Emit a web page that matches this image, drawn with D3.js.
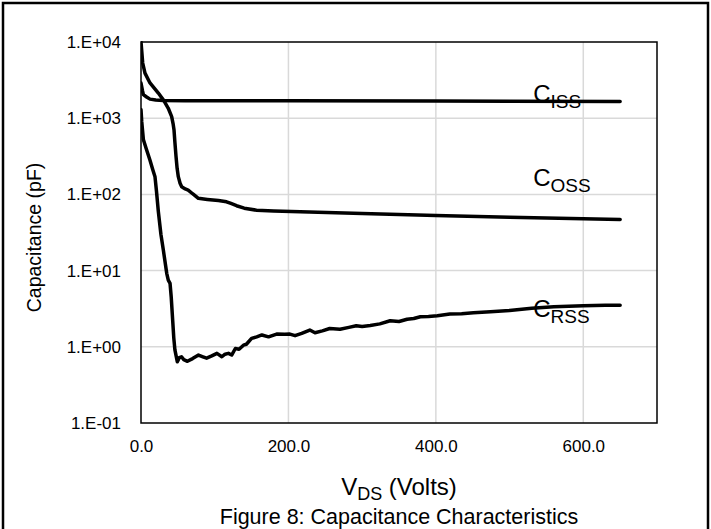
<!DOCTYPE html>
<html>
<head>
<meta charset="utf-8">
<script src="https://cdn.jsdelivr.net/npm/d3@7"></script>
<style>
  html, body { margin: 0; padding: 0; background: #fff; }
  text { font-family: "Liberation Sans", Arial, sans-serif; fill: #000; }
</style>
</head>
<body>
<svg id="chart" width="711" height="529"></svg>
<script>
// ---- Data (V_DS in volts, capacitance in pF) ----
const cissV = [0, 2, 3.2, 7.6, 12.2, 20, 30, 60, 200, 400, 650];
const cissC = [2900, 2300, 2040, 1900, 1780, 1730, 1710, 1700, 1690, 1680, 1660];

const cossV = [0, 2.3, 5.4, 12.2, 23.5, 31, 37, 41.6, 43.5, 44.8, 46, 47.5, 49, 50.6, 53, 55.2, 60, 64, 70, 77.8, 90, 105, 116, 122, 129.6, 140, 156.7, 180, 216, 300, 400, 500, 600, 650];
const cossC = [10000, 5300, 3900, 2900, 2140, 1700, 1350, 1050, 850, 700, 480, 316, 220, 171, 140, 126, 118, 114, 102, 89, 86, 83, 80, 76, 71, 66, 62, 60.5, 59, 56, 53, 50, 48, 47];

const crssV = [0, 1, 3.2, 7, 12.2, 16, 19, 21, 23.5, 27, 30.3, 34.9, 37, 39.4, 41, 43, 44.5, 46, 49.3, 52, 55, 58, 63, 70, 78, 84, 89, 96, 103, 109.7, 114, 118.6, 123, 128, 133, 139, 143, 150, 157, 164, 173, 184, 195, 202, 209, 218, 229, 236, 246, 256, 270, 282, 292, 300, 311, 324, 338, 350, 361, 370, 379, 390, 402, 419, 435, 451, 474, 500, 530, 560, 600, 630, 650];
const crssC = [1300, 900, 525, 400, 280, 210, 170, 110, 60, 30, 18.6, 9.2, 7.5, 6.8, 4.5, 2.2, 1.3, 0.91, 0.635, 0.72, 0.74, 0.68, 0.645, 0.7, 0.78, 0.74, 0.71, 0.76, 0.82, 0.74, 0.8, 0.82, 0.78, 0.95, 0.93, 1.05, 1.08, 1.29, 1.35, 1.43, 1.35, 1.47, 1.46, 1.47, 1.4, 1.5, 1.66, 1.53, 1.62, 1.74, 1.7, 1.8, 1.89, 1.85, 1.9, 2.0, 2.2, 2.15, 2.3, 2.35, 2.48, 2.5, 2.56, 2.69, 2.72, 2.8, 2.88, 3.0, 3.2, 3.35, 3.45, 3.5, 3.5];

const xTicks = [0, 200, 400, 600];
const xTickLabels = ["0.0", "200.0", "400.0", "600.0"];
const yTicks = [1e-1, 1e0, 1e1, 1e2, 1e3, 1e4];
const yTickLabels = ["1.E-01", "1.E+00", "1.E+01", "1.E+02", "1.E+03", "1.E+04"];

// label anchors: baseline of the "C" sits at (v, c)
const seriesLabels = [
  { main: "C", sub: "ISS", v: 532, c: 1620 },
  { main: "C", sub: "OSS", v: 532, c: 129 },
  { main: "C", sub: "RSS", v: 532, c: 2.46 }
];

// ---- Layout ----
const svg = d3.select("#chart");
const L = 141, R = 657, T = 42, B = 423;
const x = d3.scaleLinear().domain([0, 700]).range([L, R]);
const y = d3.scaleLog().domain([0.1, 10000]).range([B, T]);
const FONT = '"Liberation Sans", Arial, sans-serif';

svg.append("rect").attr("width", 711).attr("height", 529).attr("fill", "#fff");

// outer frame
svg.append("rect").attr("x", 3).attr("y", 3).attr("width", 705).attr("height", 560)
  .attr("fill", "none").attr("stroke", "#000").attr("stroke-width", 2.5);

// gridlines
const grid = svg.append("g");
grid.selectAll(".hg").data(yTicks.slice(1, -1)).join("line")
  .attr("x1", L).attr("x2", R).attr("y1", d => y(d)).attr("y2", d => y(d))
  .attr("stroke", "#d9d9d9").attr("stroke-width", 1.5);
grid.selectAll(".vg").data(xTicks.slice(1)).join("line")
  .attr("y1", T).attr("y2", B).attr("x1", d => x(d)).attr("x2", d => x(d))
  .attr("stroke", "#d9d9d9").attr("stroke-width", 1.5);

// plot border
svg.append("rect").attr("x", L).attr("y", T).attr("width", R - L).attr("height", B - T)
  .attr("fill", "none").attr("stroke", "#000").attr("stroke-width", 1.5);

// axes
const xAxis = d3.axisBottom(x).tickValues(xTicks).tickFormat((d, i) => xTickLabels[i]).tickSize(0).tickPadding(0);
const gx = svg.append("g").attr("transform", `translate(0,${B})`).call(xAxis);
gx.select(".domain").remove();
gx.selectAll("text").attr("font-size", 17).attr("dy", null).attr("y", 29)
  .style("font-family", FONT).attr("fill", "#000");

const yAxis = d3.axisLeft(y).tickValues(yTicks).tickFormat((d, i) => yTickLabels[i]).tickSize(0).tickPadding(20);
const gy = svg.append("g").attr("transform", `translate(${L},0)`).call(yAxis);
gy.select(".domain").remove();
gy.selectAll("text").attr("font-size", 17)
  .style("font-family", FONT).attr("fill", "#000");

// clip
svg.append("clipPath").attr("id", "clip").append("rect")
  .attr("x", L).attr("y", T - 1).attr("width", R - L).attr("height", B - T + 2);

const line = d3.line().x(d => x(d[0])).y(d => y(d[1])).curve(d3.curveLinear);
const series = [
  d3.zip(cissV, cissC),
  d3.zip(cossV, cossC),
  d3.zip(crssV, crssC)
];
svg.append("g").attr("clip-path", "url(#clip)").selectAll("path").data(series).join("path")
  .attr("d", line).attr("fill", "none").attr("stroke", "#000")
  .attr("stroke-width", 3.5).attr("stroke-linejoin", "round").attr("stroke-linecap", "round");

// series labels
seriesLabels.forEach(s => {
  const t = svg.append("text").attr("x", x(s.v)).attr("y", y(s.c)).attr("font-size", 24);
  t.append("tspan").text(s.main);
  t.append("tspan").attr("font-size", 19).attr("dy", 6).text(s.sub);
});

// axis titles
svg.append("text").attr("transform", `translate(41,${(T + B) / 2 + 5}) rotate(-90)`)
  .attr("text-anchor", "middle").attr("font-size", 19.5).text("Capacitance (pF)");

const xt = svg.append("text").attr("x", (L + R) / 2).attr("y", 495).attr("text-anchor", "middle").attr("font-size", 24);
xt.append("tspan").text("V");
xt.append("tspan").attr("font-size", 18).attr("dy", 5).text("DS");
xt.append("tspan").attr("dy", -5).text(" (Volts)");

svg.append("text").attr("x", (L + R) / 2).attr("y", 524).attr("text-anchor", "middle")
  .attr("font-size", 21.5).text("Figure 8: Capacitance Characteristics");
</script>
</body>
</html>
